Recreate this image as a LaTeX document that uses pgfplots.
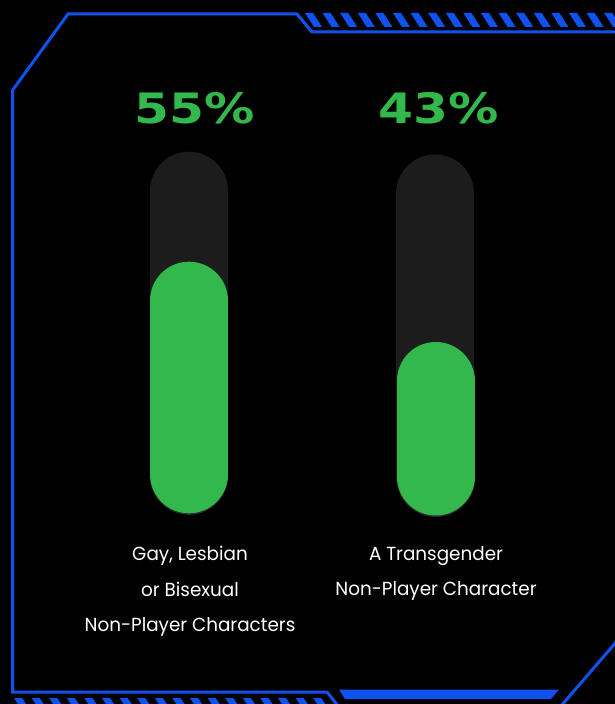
\documentclass[border=0pt]{standalone}
\usepackage{pgfplots}
\pgfplotsset{compat=1.18}
\usepackage{fontspec}
\setmainfont{Poppins}
\newfontfamily\pctfont[FakeStretch=1.2]{DejaVu Sans}
\newfontfamily\labfont[FakeStretch=0.97]{Poppins}
\definecolor{framblue}{RGB}{15,82,240}
\definecolor{barGreen}{RGB}{51,184,76}
\definecolor{track}{RGB}{28,28,28}
\definecolor{shadowc}{RGB}{45,40,50}
\begin{document}
\begin{tikzpicture}
\begin{axis}[name=ax, scale only axis, width=615bp, height=704bp,
  xmin=0, xmax=615, ymin=0, ymax=704, y dir=reverse, hide axis, clip=false]
\fill[black] (0,0) rectangle (615,704);
\begin{scope}
\clip (0,0) rectangle (615,704);
% frame
\draw[framblue, line width=3bp, line join=miter]
  (620,32) -- (312,32) -- (297,14) -- (68,14) -- (12.7,90) -- (12.7,692) -- (327,692) -- (338,706);
\draw[framblue, line width=3bp] (617,641) -- (561,706);
\fill[framblue] (339,689.5) -- (559,689.5) -- (551,699) -- (345,699) -- cycle;
% top hatch
\pgfplotsinvokeforeach{0,...,18}{
  \fill[framblue] ({305+17.6*#1},13) -- ({313+17.6*#1},13) -- ({322+17.6*#1},27) -- ({314+17.6*#1},27) -- cycle;
}
% bottom hatch
\pgfplotsinvokeforeach{0,...,17}{
  \fill[framblue] ({14+17.6*#1},698) -- ({22+17.6*#1},698) -- ({26+17.6*#1},704) -- ({18+17.6*#1},704) -- cycle;
}
\end{scope}
% tracks
\addplot[track, line width=78bp, line cap=round] coordinates {(189,190.7) (189,474)};
\addplot[track, line width=78bp, line cap=round] coordinates {(435,193.5) (435,476.5)};
% shadows
\addplot[shadowc, line width=78bp, line cap=round] coordinates {(189,302) (189,475.8)};
\addplot[shadowc, line width=78bp, line cap=round] coordinates {(435.5,382.5) (435.5,478)};
% fills
\addplot[barGreen, line width=78bp, line cap=round] coordinates {(189,300.7) (189,474.3)};
\addplot[barGreen, line width=78bp, line cap=round] coordinates {(435.5,381) (435.5,476.5)};
% value labels
\node[font=\pctfont\bfseries\fontsize{42}{42}\selectfont, text=barGreen] at (194.5,108.5) {55\%};
\node[font=\pctfont\bfseries\fontsize{42}{42}\selectfont, text=barGreen] at (439,108.5) {43\%};
% category labels
\node[font=\labfont\fontsize{19}{35.5}\selectfont, text=white, align=center, anchor=north] at (190,543) {Gay, Lesbian\\or Bisexual\\Non-Player Characters};
\node[font=\labfont\fontsize{19}{35.5}\selectfont, text=white, align=center, anchor=north] at (436,543) {A Transgender\\Non-Player Character};
\end{axis}
\pgfresetboundingbox
\path[use as bounding box] (ax.south west) rectangle (ax.north east);
\end{tikzpicture}
\end{document}
